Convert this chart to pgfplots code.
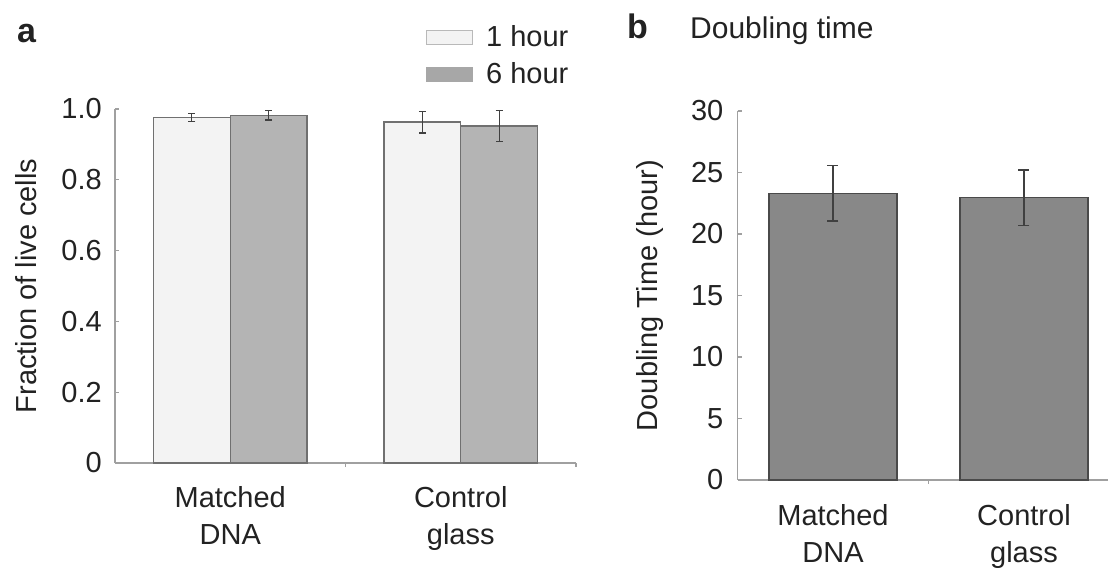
\documentclass[border=0pt]{standalone}
\usepackage{fontspec}
\setmainfont{Liberation Sans}
\usepackage{pgfplots}
\pgfplotsset{compat=1.18}

\definecolor{barlight}{HTML}{F3F3F3}
\definecolor{barmid}{HTML}{B4B4B4}
\definecolor{bardark}{HTML}{888888}
\definecolor{edgea}{HTML}{707070}
\definecolor{edgeb}{HTML}{4A4A4A}
\definecolor{axisgray}{HTML}{A0A0A0}
\definecolor{errc}{HTML}{404040}
\definecolor{txt}{HTML}{222222}

\newcommand{\lbl}{\fontsize{29bp}{37bp}\selectfont}

\pgfplotsset{
  common/.style={
    scale only axis,
    axis x line*=bottom, axis y line*=left,
    axis line style={draw=axisgray, line width=1.5bp, -},
    tick style={draw=axisgray, line width=1.2bp},
    major tick length=4bp,
    tick align=inside,
    ticklabel style={font=\lbl, text=txt},
    /pgf/number format/assume math mode=true,
    label style={font=\lbl, text=txt},
    xtick={1.5,2.5},
    xticklabels={},
    extra x ticks={1,2},
    extra x tick labels={{Matched\\DNA},{Control\\glass}},
    extra x tick style={major tick length=0pt, tick style={draw=none},
      tick label style={align=center, inner sep=0pt}},
    y tick label style={inner sep=0pt},
    xmin=0.5,
    ymin=0,
    clip=false,
  }
}

\begin{document}
\begin{tikzpicture}
\useasboundingbox (0,0) rectangle (1108bp,570bp);

% ---------- panel a ----------
\begin{axis}[common,
  at={(115bp,107bp)}, anchor=south west,
  width=461bp, height=354bp,
  xmax=2.5, ymax=1.0,
  ytick={0,0.2,0.4,0.6,0.8,1.0},
  yticklabels={0,0.2,0.4,0.6,0.8,1.0},
  y tick label style={xshift=-13bp},
  extra x tick style={tick label style={yshift=-23bp}},
  ybar=0pt, bar width=0.3333,
  ylabel={Fraction of live cells},
  ylabel style={at={(rel axis cs:-0.193,0.5)}, anchor=center},
  legend style={draw=none, fill=none, font=\lbl, text=txt,
    at={(rel axis cs:0.6746,1.065)}, anchor=south west,
    inner sep=0pt, row sep=12bp,
    nodes={inner sep=1bp},
    /tikz/every odd column/.append style={column sep=12bp}},
  legend cell align=left,
]
\addplot[fill=barlight, draw=edgea, line width=1.3bp,
  legend image code/.code={\draw[fill=barlight, draw=gray!55, line width=1bp] (0bp,-7.5bp) rectangle (46bp,6.5bp);},
  error bars/.cd, y dir=both, y explicit,
  error bar style={draw=errc, line width=1.2bp},
  error mark options={rotate=90, draw=errc, line width=1.2bp, mark size=3.5bp}]
  coordinates {(1,0.976) +- (0,0.012) (2,0.963) +- (0,0.031)};
\addlegendentry{1 hour}
\addplot[fill=barmid, draw=edgea, line width=1.3bp,
  legend image code/.code={\draw[fill=barmid!93!black, draw=barmid!93!black, line width=1bp] (0bp,-7.5bp) rectangle (46bp,6.5bp);},
  error bars/.cd, y dir=both, y explicit,
  error bar style={draw=errc, line width=1.2bp},
  error mark options={rotate=90, draw=errc, line width=1.2bp, mark size=3.5bp}]
  coordinates {(1,0.982) +- (0,0.013) (2,0.952) +- (0,0.044)};
\addlegendentry{6 hour}
\end{axis}

% ---------- panel b ----------
\begin{axis}[common,
  at={(737.5bp,90bp)}, anchor=south west,
  width=370.5bp, height=369bp,
  xmax=2.44, ymax=30,
  xtick={1.5},
  ytick={0,5,10,15,20,25,30},
  y tick label style={xshift=-14bp},
  extra x tick style={tick label style={yshift=-24bp}},
  ybar, bar width=0.672,
  ylabel={Doubling Time (hour)},
  ylabel style={at={(rel axis cs:-0.237,0.5)}, anchor=center},
]
\addplot[fill=bardark, draw=edgeb, line width=1.5bp,
  error bars/.cd, y dir=both, y explicit,
  error bar style={draw=errc, line width=1.3bp},
  error mark options={rotate=90, draw=errc, line width=1.3bp, mark size=5.5bp}]
  coordinates {(1,23.3) +- (0,2.25) (2,22.95) +- (0,2.25)};
\end{axis}

\node[anchor=base west, inner sep=0pt, text=txt, font=\fontsize{34bp}{40bp}\selectfont\bfseries] at (17bp,527bp) {a};
\node[anchor=base west, inner sep=0pt, text=txt, font=\fontsize{34bp}{40bp}\selectfont\bfseries] at (627bp,531bp) {b};
\node[anchor=base west, inner sep=0pt, text=txt, font=\fontsize{30bp}{36bp}\selectfont] at (690bp,531bp) {Doubling time};
\end{tikzpicture}
\end{document}
